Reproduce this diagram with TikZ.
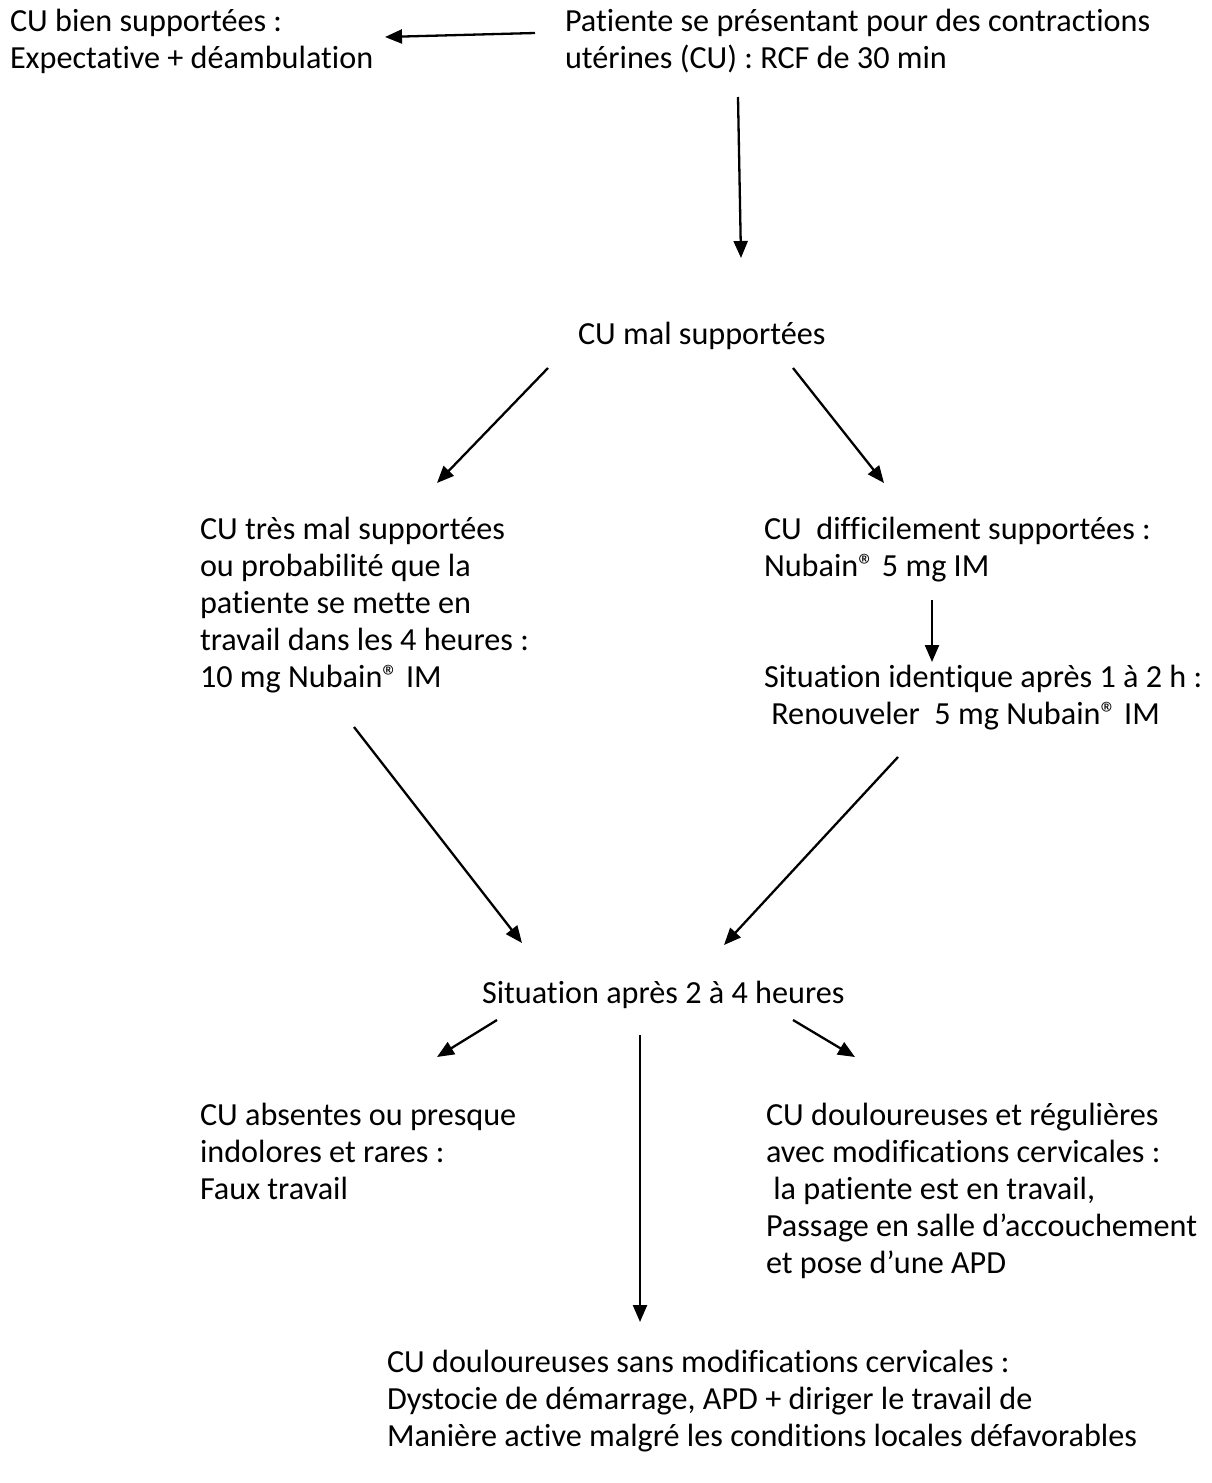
\documentclass[tikz,border=0pt]{standalone}
\usepackage{fontspec}
\setmainfont{Carlito}[Ligatures={NoCommon}]
\usetikzlibrary{arrows.meta}
\begin{document}
\begin{tikzpicture}[x=1pt,y=-1pt,
  txt/.style={anchor=north west,inner sep=0pt,outer sep=0pt,align=left,
    font=\fontsize{32.2}{37}\selectfont},
  arr/.style={line width=2.3pt,-{Triangle[length=17pt,width=14pt]}}]
\useasboundingbox[fill=white] (0,0) rectangle (1212,1483);
\node[txt] (bien) at (10,6) {\strut CU bien supportées :\\Expectative + déambulation};
\node[txt] (pat) at (565,6) {\strut Patiente se présentant pour des contractions\\utérines (CU) : RCF de 30 min};
\node[txt] (mal) at (578,319) {\strut CU mal supportées};
\node[txt] (tres) at (200,514) {\strut CU très mal supportées\\ou probabilité que la\\patiente se mette en\\travail dans les 4 heures :\\10 mg Nubain® IM};
\node[txt] (diff) at (764,514) {\strut CU~~difficilement supportées :\\Nubain® 5 mg IM};
\node[txt] (ident) at (764,662) {\strut Situation identique après 1 à 2 h :\\~Renouveler~~5 mg Nubain® IM};
\node[txt] (apres) at (482,978) {\strut Situation après 2 à 4 heures};
\node[txt] (abs) at (200,1100) {\strut CU absentes ou presque\\indolores et rares :\\Faux travail};
\node[txt] (doul) at (766,1100) {\strut CU douloureuses et régulières\\avec modifications cervicales :\\~la patiente est en travail,\\Passage en salle d’accouchement\\et pose d’une APD};
\node[txt] (sans) at (387,1347) {\strut CU douloureuses sans modifications cervicales :\\Dystocie de démarrage, APD + diriger le travail de\\Manière active malgré les conditions locales défavorables};
% arrow end points
\coordinate (a1s) at (535,33);  \coordinate (a1e) at (385,37);
\coordinate (a2s) at (738,97);  \coordinate (a2e) at (741,258);
\coordinate (a3s) at (548,368); \coordinate (a3e) at (437,483);
\coordinate (a4s) at (793,368); \coordinate (a4e) at (884,483);
\coordinate (a5s) at (932,600); \coordinate (a5e) at (932,662);
\coordinate (a6s) at (354,727); \coordinate (a6e) at (522,943);
\coordinate (a7s) at (898,757); \coordinate (a7e) at (724,945);
\coordinate (a8s) at (497,1020); \coordinate (a8e) at (437,1057);
\coordinate (a9s) at (793,1020); \coordinate (a9e) at (855,1057);
\coordinate (a10s) at (640,1035); \coordinate (a10e) at (640,1322);
\draw[arr] (a1s) -- (a1e);
\draw[arr] (a2s) -- (a2e);
\draw[arr] (a3s) -- (a3e);
\draw[arr] (a4s) -- (a4e);
\draw[arr] (a5s) -- (a5e);
\draw[arr] (a6s) -- (a6e);
\draw[arr] (a7s) -- (a7e);
\draw[arr] (a8s) -- (a8e);
\draw[arr] (a9s) -- (a9e);
\draw[arr] (a10s) -- (a10e);
\end{tikzpicture}
\end{document}
